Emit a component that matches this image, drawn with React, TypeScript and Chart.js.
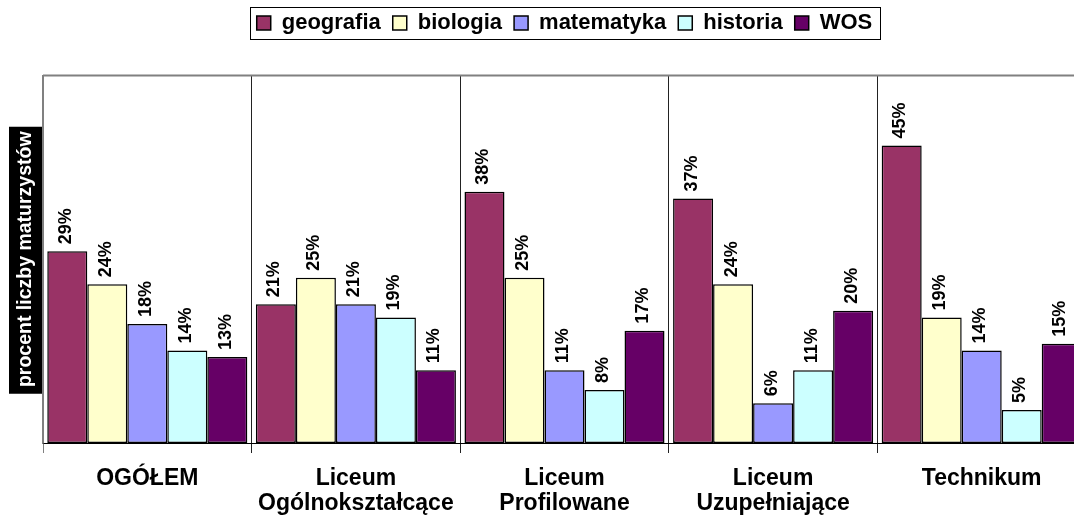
import React, { useEffect, useRef } from 'react';
import { Chart, registerables } from 'chart.js';

Chart.register(...registerables);

// ---- data ----
const categories: string[][] = [
  ['OGÓŁEM'],
  ['Liceum', 'Ogólnokształcące'],
  ['Liceum', 'Profilowane'],
  ['Liceum', 'Uzupełniające'],
  ['Technikum'],
];
const seriesNames = ['geografia', 'biologia', 'matematyka', 'historia', 'WOS'];
const geografia = [29, 21, 38, 37, 45];
const biologia = [24, 25, 25, 24, 19];
const matematyka = [18, 21, 11, 6, 14];
const historia = [14, 19, 8, 11, 5];
const wos = [13, 11, 17, 20, 15];
const seriesValues = [geografia, biologia, matematyka, historia, wos];
const seriesColors = ['#993366', '#FFFFCC', '#9999FF', '#CCFFFF', '#660066'];
const yAxisTitle = 'procent liczby maturzystów';
const yMin = 0;
const yMax = 55.6;

const FONT = "'Liberation Sans', Arial, Helvetica, sans-serif";

const yTitleBoxPlugin = {
  id: 'yTitleBox',
  beforeDraw(chart: any) {
    const y = chart.scales.y;
    const area = chart.chartArea;
    const ctx = chart.ctx;
    const h = 267;
    const cy = (area.top + area.bottom) / 2 + 1;
    ctx.save();
    ctx.fillStyle = '#000000';
    ctx.fillRect(y.left, cy - h / 2, area.left - y.left, h);
    ctx.restore();
  },
};

const frameTopPlugin = {
  id: 'frameTop',
  beforeDatasetsDraw(chart: any) {
    const area = chart.chartArea;
    const ctx = chart.ctx;
    ctx.save();
    ctx.strokeStyle = '#808080';
    ctx.lineWidth = 2;
    ctx.beginPath();
    ctx.moveTo(area.left, area.top);
    ctx.lineTo(area.right, area.top);
    ctx.stroke();
    ctx.restore();
  },
};

const dataLabelPlugin = {
  id: 'dataLabels',
  afterDatasetsDraw(chart: any) {
    const ctx = chart.ctx;
    ctx.save();
    ctx.font = `bold 18px ${FONT}`;
    ctx.fillStyle = '#000000';
    ctx.textAlign = 'left';
    ctx.textBaseline = 'middle';
    chart.data.datasets.forEach((ds: any, di: number) => {
      const meta = chart.getDatasetMeta(di);
      meta.data.forEach((bar: any, i: number) => {
        const v = ds.data[i];
        ctx.save();
        ctx.translate(bar.x - 1.5, bar.y - 7);
        ctx.rotate(-Math.PI / 2);
        ctx.fillText(`${v}%`, 0, 0);
        ctx.restore();
      });
    });
    ctx.restore();
  },
};

const legendBorderPlugin = {
  id: 'legendBorder',
  afterDraw(chart: any) {
    const legend = chart.legend;
    if (!legend || !legend.legendHitBoxes || !legend.legendHitBoxes.length) return;
    const boxes = legend.legendHitBoxes;
    const first = boxes[0];
    const last = boxes[boxes.length - 1];
    const left = first.left - 7;
    const right = last.left + last.width + 7;
    const top = first.top - 5;
    const bottom = first.top + first.height + 5;
    const ctx = chart.ctx;
    ctx.save();
    ctx.strokeStyle = '#000000';
    ctx.lineWidth = 1;
    ctx.strokeRect(Math.round(left) + 0.5, Math.round(top) + 0.5, Math.round(right - left), Math.round(bottom - top));
    ctx.restore();
  },
};

export default function App() {
  const canvasRef = useRef<HTMLCanvasElement | null>(null);

  useEffect(() => {
    if (!canvasRef.current) return;
    Chart.defaults.font.family = FONT;
    const chart = new Chart(canvasRef.current, {
      type: 'bar',
      data: {
        labels: categories,
        datasets: seriesNames.map((name, i) => ({
          label: name,
          data: seriesValues[i],
          backgroundColor: seriesColors[i],
          borderColor: '#000000',
          borderWidth: 1.5,
          borderSkipped: false,
          categoryPercentage: 0.959,
          barPercentage: 1,
        })),
      },
      options: {
        animation: false,
        responsive: true,
        maintainAspectRatio: false,
        layout: { padding: { left: 9, right: 0, top: 0, bottom: -15 } },
        plugins: {
          tooltip: { enabled: false },
          legend: {
            display: true,
            position: 'top',
            fullSize: false,
            weight: 3000,
            labels: {
              color: '#000000',
              boxWidth: 14,
              boxHeight: 14,
              padding: 12,
              font: { size: 22, weight: 'bold', family: FONT },
            },
          } as any,
          title: {
            display: true,
            text: '',
            weight: 500,
            font: { size: 10, lineHeight: '10px' } as any,
            padding: { top: 0, bottom: 21.5 },
          } as any,
        },
        scales: {
          x: {
            grid: {
              display: true,
              drawOnChartArea: true,
              drawTicks: true,
              tickLength: 10,
              color: (c: any) => (c.index === 0 ? '#808080' : '#222222'),
              lineWidth: 1,
            },
            border: { display: true, color: '#000000', width: 1 },
            ticks: {
              color: '#000000',
              padding: 13.5,
              maxRotation: 0,
              autoSkip: false,
              font: { size: 23, weight: 'bold', family: FONT, lineHeight: '25px' } as any,
            },
          },
          y: {
            min: yMin,
            max: yMax,
            grid: { display: false, drawTicks: false },
            border: { display: true, color: '#808080', width: 1.5 },
            ticks: { display: false },
            title: {
              display: true,
              text: yAxisTitle,
              color: '#ffffff',
              font: { size: 19.5, weight: 'bold', family: FONT, lineHeight: '24px' } as any,
              padding: { top: 5, bottom: 5 },
            },
          },
        },
      },
      plugins: [yTitleBoxPlugin, frameTopPlugin, dataLabelPlugin, legendBorderPlugin],
    });
    return () => chart.destroy();
  }, []);

  return (
    <div
      style={{
        position: 'fixed',
        left: 0,
        top: 0,
        width: 1074,
        height: 515,
        overflow: 'hidden',
        background: '#ffffff',
      }}
    >
      <div style={{ position: 'relative', width: 1086, height: 515 }}>
        <canvas ref={canvasRef} style={{ display: 'block' }} />
      </div>
    </div>
  );
}
